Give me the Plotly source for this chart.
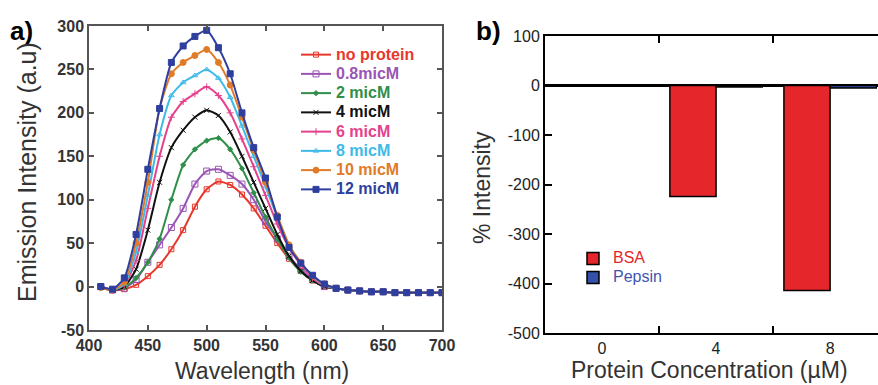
import plotly.graph_objects as go

W, H = 878, 385
FONT = "Liberation Sans, Arial, sans-serif"

# ---------------- data: panel a ----------------
wavelength = list(range(410, 701, 10))
tail = [-2, -4, -5, -6, -6, -7, -7, -7, -7, -7]
no_protein = [0, -4, -3, 2, 12, 25, 43, 65, 92, 112, 121, 117, 106, 90, 70, 50, 32, 18, 7, 0] + tail
c0_8 = [0, -4, -2, 8, 28, 48, 68, 90, 118, 133, 135, 128, 118, 100, 75, 55, 35, 20, 8, 0] + tail
c2 = [0, -4, -1, 10, 28, 55, 100, 140, 158, 168, 171, 158, 136, 108, 80, 55, 33, 17, 7, 0] + tail
c4 = [-1, -4, 0, 20, 65, 120, 160, 180, 195, 203, 197, 178, 150, 120, 90, 60, 35, 18, 7, 0] + tail
c6 = [0, -4, 2, 30, 90, 150, 195, 213, 222, 230, 220, 200, 170, 138, 105, 72, 45, 25, 10, 1] + tail
c8 = [0, -4, 3, 40, 105, 175, 220, 235, 243, 250, 240, 218, 185, 150, 115, 80, 48, 27, 12, 2] + tail
c10 = [-1, -4, 5, 50, 120, 205, 245, 258, 266, 273, 258, 232, 195, 157, 120, 82, 48, 28, 12, 3] + tail
c12 = [0, -3, 10, 60, 135, 205, 258, 277, 288, 295, 275, 245, 200, 160, 125, 80, 45, 27, 13, 3] + tail

series_names = ["no protein", "0.8micM", "2 micM", "4 micM", "6 micM", "8 micM", "10 micM", "12 micM"]
series_values = [no_protein, c0_8, c2, c4, c6, c8, c10, c12]
series_colors = ["#e8372c", "#9a55b5", "#2f8f4a", "#111111", "#e5418d", "#3dbbe8", "#e07b28", "#2e3f9f"]
series_symbols = ["square-open", "square-open", "diamond", "x-thin-open", "cross-thin-open",
                  "triangle-up-open", "circle", "square"]
series_msize = [5, 6, 4, 5, 5, 5, 6, 6]

y_ticks_a = [-50, 0, 50, 100, 150, 200, 250, 300]
y_ticklabels_a = ["-50", "0", "50", "100", "150", "200", "250", "300"]

# ---------------- data: panel b ----------------
conc_labels = ["0", "4", "8"]
bsa = [0, -224, -414]
pepsin = [0, -3, -5]

y_ticks_b = [100, 0, -100, -200, -300, -400, -500]
y_ticklabels_b = ["100", "0", "-100", "-200", "-300", "-400", "-500"]


def px_x(p):
    return p / W


def px_y(p):
    return 1 - p / H


fig = go.Figure()

for name, vals, col, sym, ms in zip(series_names, series_values, series_colors, series_symbols, series_msize):
    fig.add_trace(go.Scatter(
        x=wavelength, y=vals, mode="lines+markers",
        name=f"<span style='color:{col};font-size:16px'>{name}</span>",
        line=dict(color=col, width=2, shape="spline", smoothing=0.6),
        marker=dict(symbol=sym, size=ms, color=col, line=dict(color=col, width=1)),
        xaxis="x", yaxis="y", legend="legend",
    ))

fig.add_trace(go.Bar(
    x=conc_labels, y=bsa, name="<span style='color:#e5262a;font-size:16px'>BSA</span>",
    marker=dict(color="#e5262a", line=dict(color="black", width=1.5)),
    xaxis="x2", yaxis="y2", legend="legend2",
))
fig.add_trace(go.Bar(
    x=conc_labels, y=pepsin, name="<span style='color:#3f55b0;font-size:16px'>Pepsin</span>",
    marker=dict(color="#3550a8", line=dict(color="black", width=1.5)),
    xaxis="x2", yaxis="y2", legend="legend2",
))

axis_a = dict(showgrid=False, zeroline=False, showline=True, linecolor="#555", linewidth=1.5,
              mirror="ticks", ticks="inside", ticklen=5, tickcolor="#555", tickwidth=1.5,
              automargin=False,
              tickfont=dict(family=FONT, size=16, color="#333", weight="bold"))
axis_b = dict(showgrid=False, showline=True, linecolor="black", linewidth=2,
              ticks="inside", ticklen=7, tickcolor="black", tickwidth=2,
              automargin=False,
              tickfont=dict(family=FONT, size=16, color="#222"))

fig.update_layout(
    width=W, height=H,
    margin=dict(l=0, r=0, t=0, b=0, autoexpand=False),
    paper_bgcolor="white", plot_bgcolor="white",
    barmode="group", bargap=0.19, bargroupgap=0,
    xaxis=dict(domain=[px_x(89), px_x(442)], range=[400, 700], dtick=50, anchor="y", **axis_a),
    yaxis=dict(domain=[px_y(330), px_y(26)], range=[-50, 300], tickmode="array",
               tickvals=y_ticks_a, ticktext=y_ticklabels_a, anchor="x", **axis_a),
    xaxis2=dict(domain=[px_x(545), 1.0], type="category", range=[-0.5, 2.42],
                tickson="boundaries", anchor="y2", mirror="ticks", **axis_b),
    yaxis2=dict(domain=[px_y(333), px_y(36)], range=[-500, 100], tickmode="array",
                tickvals=y_ticks_b, ticktext=y_ticklabels_b, anchor="x2",
                zeroline=True, zerolinecolor="black", zerolinewidth=3, **axis_b),
    legend=dict(x=px_x(296), y=px_y(40), xanchor="left", yanchor="top",
                bgcolor="rgba(0,0,0,0)", borderwidth=0,
                font=dict(family=FONT, size=12.5, weight="bold"), tracegroupgap=0),
    legend2=dict(x=px_x(573), y=px_y(244), xanchor="left", yanchor="top",
                 bgcolor="rgba(0,0,0,0)", borderwidth=0,
                 font=dict(family=FONT, size=11.5)),
    showlegend=True,
)

ann_font = dict(family=FONT, color="#333")
common = dict(xref="paper", yref="paper", showarrow=False, xanchor="center", yanchor="middle")
fig.add_annotation(text="<b>a)</b>", x=px_x(21), y=px_y(31),
                   font=dict(family=FONT, size=26, color="black"), **common)
fig.add_annotation(text="<b>b)</b>", x=px_x(488), y=px_y(31),
                   font=dict(family=FONT, size=26, color="black"), **common)
fig.add_annotation(text="Wavelength (nm)", x=px_x(262), y=px_y(371),
                   font=dict(size=23, **ann_font), **common)
fig.add_annotation(text="Emission Intensity (a.u)", x=px_x(27), y=px_y(172), textangle=-90,
                   font=dict(size=25, **ann_font), **common)
fig.add_annotation(text="% Intensity", x=px_x(482), y=px_y(188), textangle=-90,
                   font=dict(size=23, **ann_font), **common)
fig.add_annotation(text="Protein Concentration (µM)", x=px_x(709), y=px_y(370),
                   font=dict(size=23, **ann_font), **common)

fig.write_html(
    "out.html",
    config={"displayModeBar": False},
    post_script="document.body.style.margin='0';document.body.style.overflow='hidden';"
                "document.documentElement.style.overflow='hidden';",
)
